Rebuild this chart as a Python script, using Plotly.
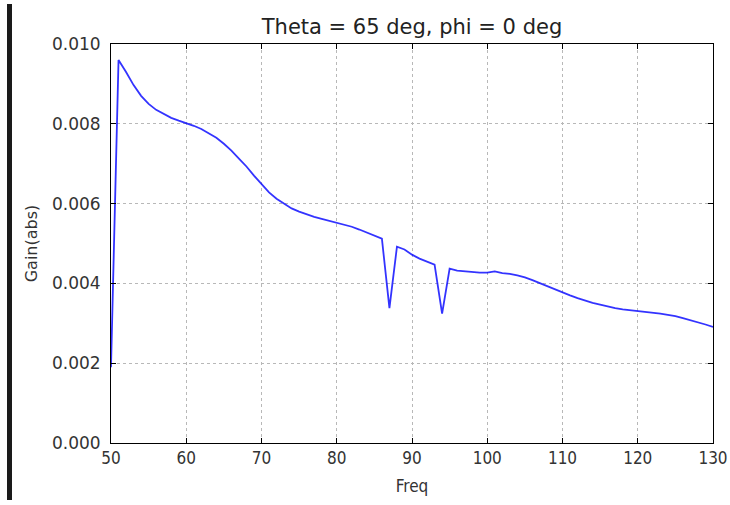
import plotly.graph_objects as go

freq = list(range(50, 131))
gain = [
    0.0019, 0.0096, 0.0093, 0.00897, 0.0087, 0.0085, 0.00835, 0.00825, 0.00815, 0.00808,
    0.00802, 0.00795, 0.00787, 0.00777, 0.00765, 0.0075, 0.00733, 0.00713, 0.00693, 0.0067,
    0.00648, 0.00628, 0.00612, 0.00599, 0.00588, 0.0058, 0.00573, 0.00567, 0.00562, 0.00557,
    0.00553, 0.00548, 0.00542, 0.00535, 0.00528, 0.0052, 0.00512, 0.00338, 0.00492, 0.00485,
    0.00472, 0.00462, 0.00455, 0.00447, 0.00324, 0.00437, 0.00432, 0.0043, 0.00428, 0.00427,
    0.00427, 0.0043, 0.00426, 0.00424, 0.0042, 0.00415, 0.00408, 0.004, 0.00392, 0.00385,
    0.00377, 0.0037, 0.00363, 0.00357, 0.00351, 0.00347, 0.00342, 0.00338, 0.00335, 0.00333,
    0.00331, 0.00329, 0.00327, 0.00324, 0.00321, 0.00318, 0.00313, 0.00308, 0.00302, 0.00297,
    0.00291,
]
x_ticks = [50, 60, 70, 80, 90, 100, 110, 120, 130]
y_ticks = [0.000, 0.002, 0.004, 0.006, 0.008, 0.010]
y_tick_labels = ["0.000", "0.002", "0.004", "0.006", "0.008", "0.010"]

L, R, T, B = 111, 17, 44, 62
W, H = 730, 505
PW, PH = W - L - R, H - T - B

fig = go.Figure()
fig.add_trace(go.Scatter(
    x=freq, y=gain, mode="lines",
    line=dict(color="rgba(0,0,255,0.8)", width=1.8),
    showlegend=False,
))

axis_common = dict(
    showline=True, linecolor="black", linewidth=1, mirror="ticks",
    ticks="inside", ticklen=5, tickcolor="black",
    showgrid=True, gridcolor="#b8b8b8", griddash="3px,3px", gridwidth=1,
    zeroline=False,
)

fig.update_layout(
    width=W, height=H,
    margin=dict(l=L, r=R, t=T, b=B, autoexpand=False),
    paper_bgcolor="white", plot_bgcolor="white",
    title=dict(text="Theta = 65 deg, phi = 0 deg", x=(L + PW / 2) / W, xanchor="center",
               y=1 - 27 / H, yanchor="middle",
               font=dict(family="DejaVu Sans", size=21, color="#222")),
    xaxis=dict(range=[50, 130], tickvals=x_ticks, ticktext=[str(v) for v in x_ticks],
               tickfont=dict(family="DejaVu Sans Condensed, DejaVu Sans", size=17, color="#333"),
               title=dict(text="Freq", font=dict(family="DejaVu Sans Condensed, DejaVu Sans",
                                                 size=17, color="#333"),
                          standoff=12),
               **axis_common),
    yaxis=dict(range=[0, 0.010], tickvals=y_ticks, ticktext=y_tick_labels,
               tickfont=dict(family="DejaVu Sans", size=17, color="#333"),
               ticklabelstandoff=6,
               title=dict(text="Gain(abs)", font=dict(family="DejaVu Sans", size=16, color="#333"),
                          standoff=10),
               **axis_common),
    shapes=[dict(type="rect", xref="paper", yref="paper",
                 x0=(7 - L) / PW, x1=(12 - L) / PW,
                 y0=(T + PH - 500) / PH, y1=(T + PH - 4) / PH,
                 fillcolor="#1a1a1a", line=dict(width=0), layer="above")],
)

fig.write_html("out.html", config={"responsive": False, "displayModeBar": False},
               post_script="document.body.style.margin='0';")
